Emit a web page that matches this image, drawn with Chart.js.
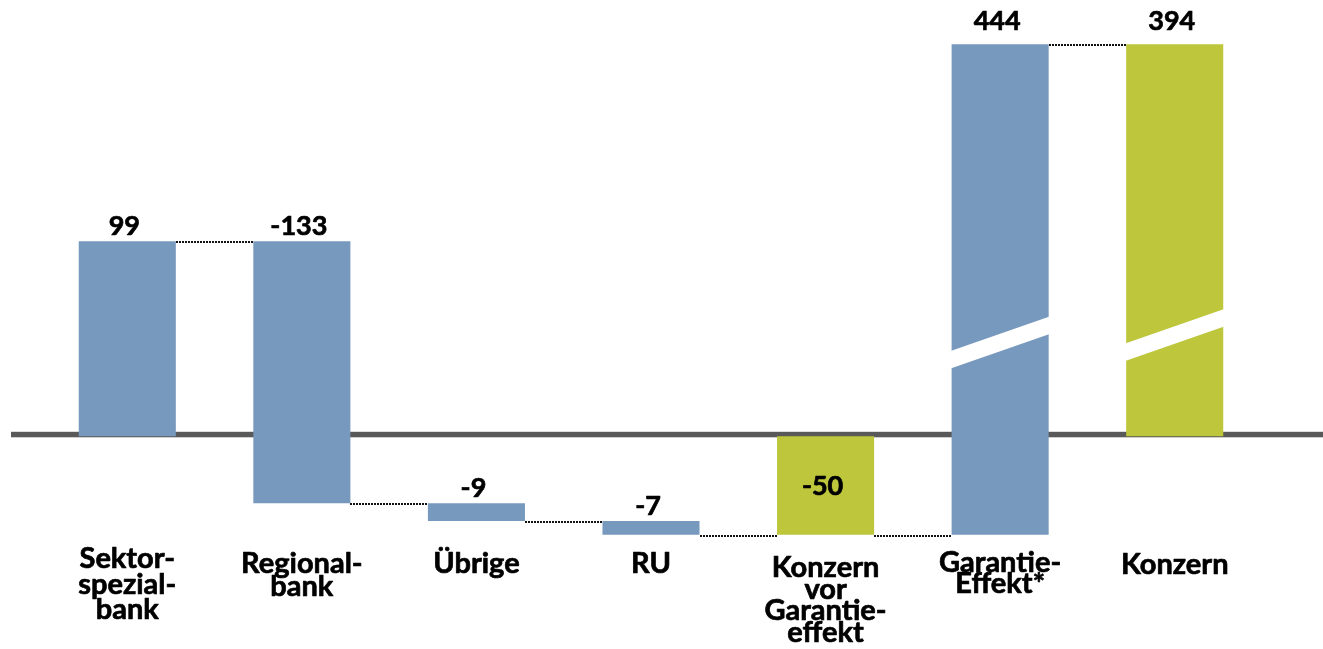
<!DOCTYPE html>
<html>
<head>
<meta charset="utf-8">
<script src="https://cdn.jsdelivr.net/npm/chart.js@4/dist/chart.umd.min.js"></script>
<style>
  html, body { margin: 0; padding: 0; background: #fff; overflow: hidden; }
  canvas { display: block; }
</style>
</head>
<body>
<canvas id="c" width="1323" height="649"></canvas>
<script>
// Categories (multi-line labels)
const categories = [
  ['Sektor-', 'spezial-', 'bank'],
  ['Regional-', 'bank'],
  ['Übrige'],
  ['RU'],
  ['Konzern', 'vor', 'Garantie-', 'effekt'],
  ['Garantie-', 'Effekt*'],
  ['Konzern']
];
// Contribution of each step, totals are absolute
const values = [99, -133, -9, -7, -50, 444, 394];
const barKinds = ['delta', 'delta', 'delta', 'delta', 'total', 'delta', 'total'];
const valueLabels = ['99', '-133', '-9', '-7', '-50', '444', '394'];

const BLUE = '#7799BD';
const GREEN = '#BEC63B';
const barColors = [BLUE, BLUE, BLUE, BLUE, GREEN, BLUE, GREEN];

// Axis break: values above BREAK_FROM are drawn BREAK_GAP units lower
const BREAK_FROM = 150;
const BREAK_GAP = 195;
const toAxis = v => (v > BREAK_FROM ? v - BREAK_GAP : v);

// Floating bar ranges of the waterfall
let running = 0;
const ranges = values.map((v, i) => {
  if (barKinds[i] === 'total') { running = v; return [0, v]; }
  const start = running;
  running += v;
  return [start, running];
});

const VALUE_FONT = 'bold 27px Lato';
const CAT_FONT = 'bold 29px Lato';

// bold text with a thin outline for a heavier stroke
function heavyText(ctx, t, x, y) {
  ctx.strokeText(t, x, y);
  ctx.fillText(t, x, y);
}

const waterfallDecor = {
  id: 'waterfallDecor',
  beforeDatasetsDraw(chart) {
    const ctx = chart.ctx;
    const y0 = chart.scales.y.getPixelForValue(0);
    ctx.save();
    ctx.fillStyle = '#595959';
    ctx.fillRect(11, y0 - 4.5, chart.width - 11, 5.5);
    ctx.restore();
  },
  afterDatasetsDraw(chart, args, opts) {
    const ctx = chart.ctx;
    const ys = chart.scales.y;
    const bars = chart.getDatasetMeta(0).data;
    ctx.save();

    // break marks (white slanted bands)
    Object.entries(opts.breakMarks).forEach(([idx, at]) => {
      const b = bars[+idx];
      const yc = ys.getPixelForValue(at);
      const l = b.x - b.width / 2 - 1, r = b.x + b.width / 2 + 1;
      const rise = opts.breakRise / 2, half = opts.breakThickness / 2;
      ctx.fillStyle = '#ffffff';
      ctx.beginPath();
      ctx.moveTo(l, yc + rise - half);
      ctx.lineTo(r, yc - rise - half);
      ctx.lineTo(r, yc - rise + half);
      ctx.lineTo(l, yc + rise + half);
      ctx.closePath();
      ctx.fill();
    });

    // dotted connectors between consecutive bars
    ctx.strokeStyle = '#111';
    ctx.lineWidth = 2;
    ctx.setLineDash([2, 1]);
    for (let i = 0; i < bars.length - 1; i++) {
      const y = Math.round(ys.getPixelForValue(toAxis(ranges[i][1]))) + 1;
      const x1 = Math.round(bars[i].x + bars[i].width / 2);
      const x2 = Math.round(bars[i + 1].x - bars[i + 1].width / 2);
      ctx.beginPath();
      ctx.moveTo(x1, y);
      ctx.lineTo(x2, y);
      ctx.stroke();
    }
    ctx.setLineDash([]);

    // value labels
    ctx.font = VALUE_FONT;
    ctx.fillStyle = '#000';
    ctx.strokeStyle = '#000';
    ctx.lineWidth = 0.7;
    ctx.lineJoin = 'round';
    ctx.textAlign = 'center';
    bars.forEach((b, i) => {
      const top = Math.min(b.y, b.base);
      const bottom = Math.max(b.y, b.base);
      const x = b.x + opts.valueShiftX;
      if (barKinds[i] === 'total' && values[i] < 0) {
        ctx.textBaseline = 'middle';
        heavyText(ctx, valueLabels[i], x, (top + bottom) / 2 + 1);
      } else {
        ctx.textBaseline = 'alphabetic';
        const gap = ranges[i][1] > BREAK_FROM ? opts.brokenGap : opts.valueGap;
        heavyText(ctx, valueLabels[i], x, top - gap);
      }
    });

    // category labels
    ctx.font = CAT_FONT;
    ctx.textBaseline = 'alphabetic';
    categories.forEach((lines, i) => {
      const lay = opts.catLayout[i];
      lines.forEach((t, k) => {
        heavyText(ctx, t, bars[i].x, lay.y + k * lay.lh);
      });
    });
    ctx.restore();
  }
};

function draw() {
  new Chart(document.getElementById('c'), {
    type: 'bar',
    data: {
      labels: categories,
      datasets: [{
        data: ranges.map(r => r.map(toAxis)),
        backgroundColor: barColors,
        borderWidth: 0,
        barPercentage: 1,
        categoryPercentage: 0.556
      }]
    },
    options: {
      responsive: false,
      devicePixelRatio: 1,
      animation: false,
      layout: { padding: { left: 40, right: 61, top: 3, bottom: 0 } },
      scales: {
        x: { display: false },
        y: { display: false, min: -108, max: 220 }
      },
      plugins: {
        legend: { display: false },
        tooltip: { enabled: false },
        waterfallDecor: {
          breakMarks: { 5: 47.6, 6: 51.4 },
          breakRise: 34.5,
          breakThickness: 17.5,
          valueGap: 6,
          brokenGap: 14,
          valueShiftX: -3,
          catLayout: [
            { y: 568, lh: 25.5 },
            { y: 573, lh: 23 },
            { y: 573, lh: 23 },
            { y: 573, lh: 23 },
            { y: 577, lh: 21.5 },
            { y: 572, lh: 21 },
            { y: 574, lh: 23 }
          ]
        }
      }
    },
    plugins: [waterfallDecor]
  });
}

if (document.fonts && document.fonts.load) {
  Promise.all([document.fonts.load(VALUE_FONT), document.fonts.load(CAT_FONT)]).then(draw, draw);
} else {
  draw();
}
</script>
</body>
</html>
